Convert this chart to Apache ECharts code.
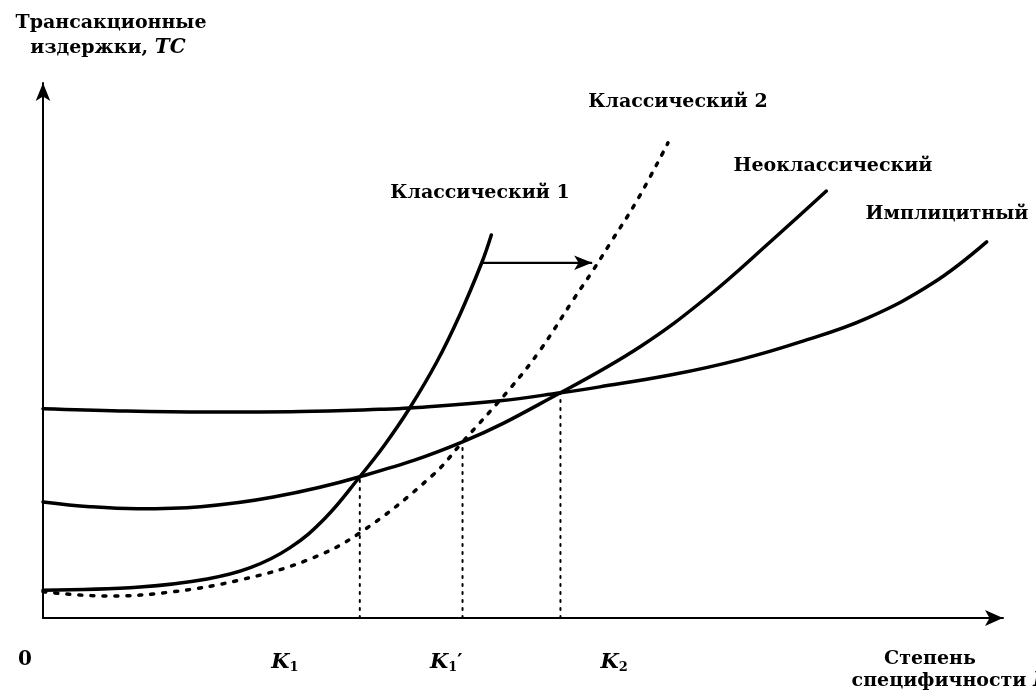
<!DOCTYPE html>
<html>
<head>
<meta charset="utf-8">
<script src="https://cdn.jsdelivr.net/npm/echarts@6/dist/echarts.min.js"></script>
<style>
  html, body { margin: 0; padding: 0; background: #fff; }
  #chart { width: 1036px; height: 700px; }
</style>
</head>
<body>
<div id="chart"></div>
<script>
// Transaction costs TC (y) against degree of asset specificity K (x)
// for four contract types. Values in arbitrary units.
const implicitCurve = [[0,3.91],[0.80,3.87],[1.71,3.85],[2.68,3.86],[3.51,3.90],[3.82,3.925],[4.76,4.06],[5.39,4.21],[5.80,4.32],[6.56,4.55],[7.26,4.83],[7.89,5.16],[8.58,5.60],[9.27,6.26],[9.83,7.03]];
const neoclassicalCurve = [[0,2.17],[0.49,2.08],[0.98,2.04],[1.64,2.08],[2.40,2.26],[3.30,2.64],[4.37,3.29],[5.39,4.21],[6.22,5.07],[6.92,6.00],[7.60,7.07],[8.16,7.98]];
const classical1Curve = [[0,0.52],[1.01,0.58],[1.71,0.73],[2.16,0.94],[2.57,1.31],[2.94,1.87],[3.30,2.64],[3.56,3.24],[3.82,3.925],[4.10,4.78],[4.34,5.66],[4.57,6.64],[4.67,7.16]];
const classical2Curve = [[0,0.49],[0.67,0.41],[1.35,0.49],[2.05,0.71],[2.75,1.08],[3.30,1.59],[4.06,2.67],[4.37,3.29],[4.87,4.30],[5.18,5.01],[5.52,5.94],[5.73,6.50],[5.91,7.01],[6.19,7.81],[6.51,8.88]];

// Critical specificity levels and the cost where the curves cross
const kNames = ['K1', "K1'", 'K2'];
const kValues = [3.30, 4.37, 5.39];
const kCosts = [2.64, 3.29, 4.21];

// Shift of the classical curve: from Классический 1 towards Классический 2
const shiftFrom = [4.57, 6.64];
const shiftTo = [5.72, 6.64];

const curveNames = ['Имплицитный', 'Неоклассический', 'Классический 1', 'Классический 2'];
const axisTitleY = ['Трансакционные', 'издержки, '];
const axisTitleX = ['Степень', 'специфичности '];

const X_MAX = 10, Y_MAX = 10;
const FONT = '"DejaVu Serif", "Liberation Serif", serif';

const chart = echarts.init(document.getElementById('chart'), null, { renderer: 'canvas' });

const solid = (name, data) => ({
  name, type: 'line', data, smooth: 0.4,
  showSymbol: false, silent: true, z: 3,
  lineStyle: { color: '#000', width: 3.5, cap: 'round' }
});

const series = [
  solid(curveNames[0], implicitCurve),
  solid(curveNames[1], neoclassicalCurve),
  solid(curveNames[2], classical1Curve),
  {
    name: curveNames[3], type: 'line', data: classical2Curve, smooth: 0.4,
    showSymbol: false, silent: true, z: 3,
    lineStyle: { color: '#000', width: 3.5, type: [3, 9], cap: 'round' }
  },
  {
    name: 'shift', type: 'line', data: [shiftFrom, shiftTo], showSymbol: false, silent: true,
    lineStyle: { color: '#000', width: 2 },
    markLine: {
      silent: true, symbol: ['none', 'arrow'], symbolSize: [11, 18],
      label: { show: false },
      lineStyle: { color: '#000', width: 2, type: 'solid' },
      data: [[{ coord: shiftFrom }, { coord: shiftTo }]]
    }
  }
];

kValues.forEach((k, i) => {
  series.push({
    name: kNames[i], type: 'line', data: [[k, 0], [k, kCosts[i]]],
    showSymbol: false, silent: true, z: 2,
    lineStyle: { color: '#000', width: 2, type: [2, 6], cap: 'round' }
  });
});

chart.setOption({
  animation: false,
  backgroundColor: '#fff',
  grid: { left: 43, right: 33, top: 83, bottom: 82, containLabel: false },
  xAxis: {
    type: 'value', min: 0, max: X_MAX,
    axisLine: { show: true, onZero: false, symbol: ['none', 'arrow'], symbolSize: [12, 18], lineStyle: { color: '#000', width: 2 } },
    axisTick: { show: false }, axisLabel: { show: false }, splitLine: { show: false }
  },
  yAxis: {
    type: 'value', min: 0, max: Y_MAX,
    axisLine: { show: true, onZero: false, symbol: ['none', 'arrow'], symbolSize: [11, 18], lineStyle: { color: '#000', width: 2 } },
    axisTick: { show: false }, axisLabel: { show: false }, splitLine: { show: false }
  },
  series
});

// Text: axis titles, curve names and the K labels under the axis
const txt = (x, y, text, extra) => ({
  type: 'text', x, y, silent: true,
  style: Object.assign({ text, fill: '#000', font: 'bold 19px ' + FONT, align: 'center', verticalAlign: 'middle' }, extra || {})
});
const richStyle = {
  k: { fontFamily: FONT, fontSize: 21, fontWeight: 'bold', fontStyle: 'italic', lineHeight: 22 },
  s: { fontFamily: FONT, fontSize: 13, fontWeight: 'bold', lineHeight: 12, verticalAlign: 'bottom' },
  p: { fontFamily: FONT, fontSize: 20, fontWeight: 'bold', lineHeight: 22 },
  n: { fontFamily: FONT, fontSize: 19, fontWeight: 'bold', lineHeight: 22 },
  t: { fontFamily: FONT, fontSize: 20, fontWeight: 'bold', fontStyle: 'italic', lineHeight: 22 }
};
const kLabelX = [2.52, 4.20, 5.95];
const kLabelRich = ['{k|K}{s|1}', '{k|K}{s|1}{p|′}', '{k|K}{s|2}'];

const graphics = [
  txt(111, 23, axisTitleY[0]),
  { type: 'text', x: 108, y: 48, silent: true,
    style: { text: '{n|' + axisTitleY[1] + '}{t|TC}', rich: richStyle, align: 'center', verticalAlign: 'middle', fill: '#000' } },
  txt(25, 660, '0', { font: 'bold 20px ' + FONT }),
  txt(930, 659, axisTitleX[0]),
  { type: 'text', x: 951, y: 681, silent: true,
    style: { text: '{n|' + axisTitleX[1] + '}{t|K}', rich: richStyle, align: 'center', verticalAlign: 'middle', fill: '#000' } },
  txt(480, 193, curveNames[2]),
  txt(678, 102, curveNames[3]),
  txt(833, 166, curveNames[1]),
  txt(947, 214, curveNames[0])
];
kLabelX.forEach((x, i) => {
  const p = chart.convertToPixel({ gridIndex: 0 }, [x, 0]);
  graphics.push({ type: 'text', x: p[0], y: 663, silent: true,
    style: { text: kLabelRich[i], rich: richStyle, align: 'center', verticalAlign: 'middle', fill: '#000' } });
});
chart.setOption({ graphic: graphics });
</script>
</body>
</html>
